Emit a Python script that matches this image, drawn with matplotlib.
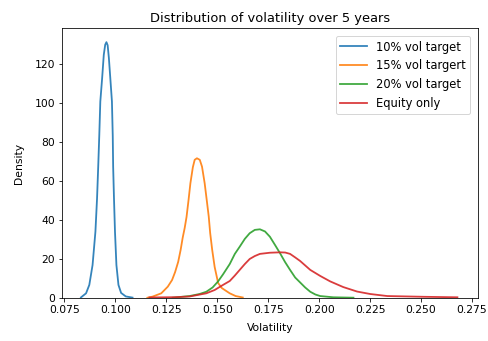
import matplotlib.pyplot as plt

# KDE curves (volatility, density)
vol10_x = [0.0831, 0.0856, 0.0872, 0.0888, 0.0902, 0.0910, 0.0916, 0.0921, 0.0926, 0.0935,
           0.0943, 0.0950, 0.0956, 0.0962, 0.0968, 0.0975, 0.0983, 0.0987, 0.0989, 0.0993,
           0.0998, 0.1005, 0.1015, 0.1028, 0.1051, 0.1084]
vol10_y = [0.3, 2.4, 6.7, 16.9, 34.0, 51.1, 68.2, 83.6, 100.7, 112.7,
           124.6, 129.8, 131.1, 129.5, 123.0, 112.7, 100.7, 83.1, 67.2, 51.3,
           33.9, 16.9, 6.7, 2.6, 0.8, 0.2]

vol15_x = [0.1157, 0.1182, 0.1225, 0.1257, 0.1278, 0.1293, 0.1308, 0.1320, 0.1330, 0.1340,
           0.1349, 0.1359, 0.1368, 0.1380, 0.1389, 0.1400, 0.1414, 0.1425, 0.1438, 0.1448,
           0.1458, 0.1465, 0.1475, 0.1487, 0.1504, 0.1522, 0.1561, 0.1590, 0.1625]
vol15_y = [0.15, 0.7, 2.4, 5.8, 9.2, 13.3, 18.5, 24.6, 30.8, 35.9,
           41.5, 50.3, 58.8, 67.0, 70.8, 71.6, 70.8, 67.3, 58.8, 50.3,
           41.7, 33.3, 24.6, 15.9, 7.7, 5.1, 2.4, 1.0, 0.26]

vol20_x = [0.1281, 0.1364, 0.1413, 0.1446, 0.1477, 0.1503, 0.1528, 0.1561, 0.1586, 0.1610,
           0.1635, 0.1659, 0.1684, 0.1709, 0.1734, 0.1758, 0.1783, 0.1808, 0.1832, 0.1857,
           0.1882, 0.1906, 0.1931, 0.1956, 0.1981, 0.2005, 0.2069, 0.2168]
vol20_y = [0.15, 1.0, 2.05, 3.2, 5.4, 8.4, 12.1, 17.4, 22.6, 26.3,
           30.3, 33.2, 34.9, 35.2, 34.1, 31.4, 27.2, 22.9, 18.5, 14.4,
           10.5, 8.0, 5.4, 3.2, 1.8, 1.0, 0.36, 0.15]

equity_x = [0.1167, 0.1290, 0.1364, 0.1446, 0.1487, 0.1528, 0.1561, 0.1586, 0.1610, 0.1635,
            0.1659, 0.1684, 0.1709, 0.1758, 0.1808, 0.1833, 0.1857, 0.1882, 0.1906, 0.1931,
            0.1956, 0.2005, 0.2054, 0.2118, 0.2186, 0.2250, 0.2334, 0.2511, 0.2678]
equity_y = [0.26, 0.41, 0.77, 2.4, 4.1, 6.7, 8.7, 11.5, 14.4, 17.4,
            20.0, 21.5, 22.6, 23.2, 23.4, 23.3, 22.6, 20.8, 19.0, 16.7,
            14.4, 11.3, 8.5, 5.6, 3.3, 2.05, 1.0, 0.62, 0.36]

labels = ['10% vol target', '15% vol targert', '20% vol target', 'Equity only']

plt.rcParams['font.size'] = 10.8

fig, ax = plt.subplots(figsize=(6.78, 4.74), dpi=72)
fig.subplots_adjust(left=0.127, right=0.980, top=0.918, bottom=0.126)

series = [(vol10_x, vol10_y), (vol15_x, vol15_y), (vol20_x, vol20_y), (equity_x, equity_y)]
for (xs, ys), lab in zip(series, labels):
    ax.plot(xs, ys, label=lab, linewidth=1.8, alpha=0.9)

ax.set_xlim(0.0738, 0.2781)
ax.set_ylim(0, 138.5)
ax.set_xticks([0.075, 0.100, 0.125, 0.150, 0.175, 0.200, 0.225, 0.250, 0.275])
ax.set_xlabel('Volatility', labelpad=8)
ax.set_ylabel('Density', labelpad=10)
ax.set_title('Distribution of volatility over 5 years', fontsize=13)
ax.legend(loc='upper right', fontsize=11.5, labelspacing=0.5, handlelength=2.3,
          borderaxespad=0.7)

fig.savefig('out.png', dpi=72)
